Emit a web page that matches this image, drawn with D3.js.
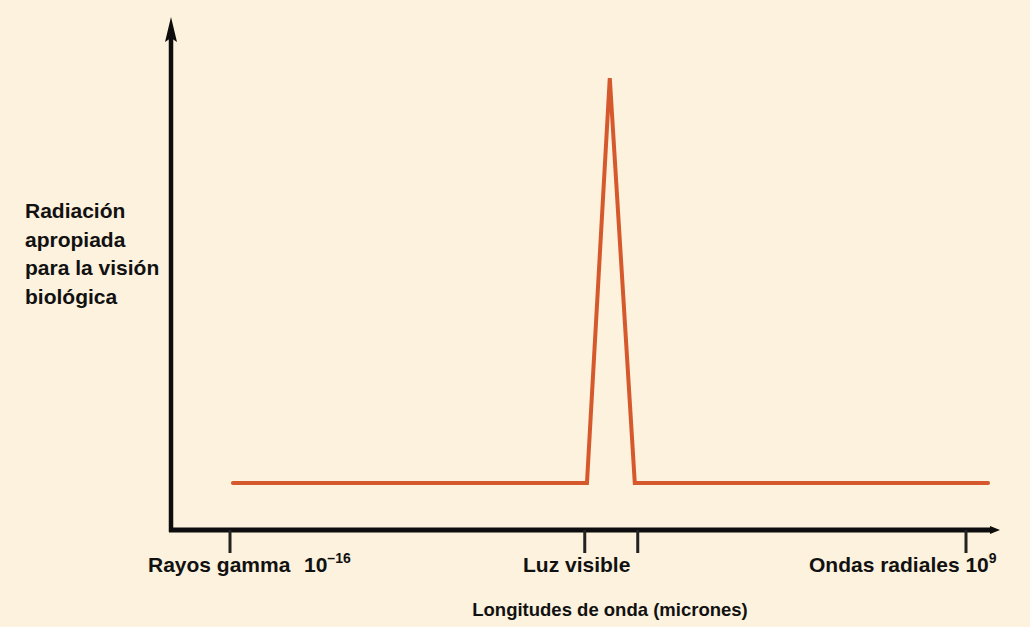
<!DOCTYPE html>
<html><head><meta charset="utf-8">
<script src="https://cdn.jsdelivr.net/npm/d3@7"></script>
<style>
html,body{margin:0;padding:0;background:#fcf2dd;}
svg{display:block;}
text{font-family:"Liberation Sans",Arial,Helvetica,sans-serif;font-weight:bold;fill:#111;}
</style></head>
<body>
<svg id="chart" width="1030" height="627"></svg>
<script>
// Conceptual spectrum positions (0 = gamma rays, 100 = radio waves)
const linePositions = [0.4, 48.5, 51.6, 55.0, 103];
const lineValues    = [9.4, 9.4, 90.4, 9.4, 9.4];
const tickPositions = [0, 48.2, 55.4, 100];
const tickLabels = ["Rayos gamma", "Luz visible", "Ondas radiales"];
const tickExponents = ["\u201316", "", "9"];
const yLabelLines = ["Radiación", "apropiada", "para la visión", "biológica"];
const xTitle = "Longitudes de onda (micrones)";

const svg = d3.select("#chart");
const x = d3.scaleLinear().domain([0, 100]).range([230, 966]);
const y = d3.scaleLinear().domain([0, 100]).range([530, 30]);

// line
svg.append("path")
  .datum(linePositions.map((p, i) => [p, lineValues[i]]))
  .attr("fill", "none")
  .attr("stroke", "#d5592d")
  .attr("stroke-width", 4)
  .attr("stroke-linejoin", "miter")
  .attr("stroke-linecap", "round")
  .attr("d", d3.line().x(d => x(d[0])).y(d => y(d[1])));

// axes
const axisColor = "#0d0d0d";
const x0 = 171, y0 = 530;
svg.append("line").attr("x1", x0).attr("x2", x0).attr("y1", y0 + 2).attr("y2", 36)
  .attr("stroke", axisColor).attr("stroke-width", 4.5);
svg.append("path").attr("d", `M${x0},17 L${x0 + 6},42 L${x0},38 L${x0 - 6},42 Z`).attr("fill", axisColor);
svg.append("line").attr("x1", x0 - 2).attr("x2", 992).attr("y1", y0).attr("y2", y0)
  .attr("stroke", axisColor).attr("stroke-width", 5);
svg.append("path").attr("d", `M1000,${y0} L990,${y0 - 4} L990,${y0 + 4} Z`).attr("fill", axisColor);

// ticks
svg.selectAll("line.tick").data(tickPositions).join("line")
  .attr("class", "tick")
  .attr("x1", d => x(d)).attr("x2", d => x(d))
  .attr("y1", y0).attr("y2", 553)
  .attr("stroke", "#222").attr("stroke-width", 3);

// tick labels
const lab1 = svg.append("text").attr("x", 148).attr("y", 572).style("font-size", "21px");
lab1.append("tspan").text(tickLabels[0]);
lab1.append("tspan").attr("x", 304).text("10");
lab1.append("tspan").attr("dy", -9).style("font-size", "14px").text(tickExponents[0]);

svg.append("text").attr("x", 523).attr("y", 572).style("font-size", "21px").text(tickLabels[1]);

const lab3 = svg.append("text").attr("x", 809).attr("y", 572).style("font-size", "21px");
lab3.append("tspan").text(tickLabels[2] + " 10");
lab3.append("tspan").attr("dy", -9).style("font-size", "14px").text(tickExponents[2]);

// x title
svg.append("text").attr("x", 610).attr("y", 616).attr("text-anchor", "middle")
  .style("font-size", "18.5px").text(xTitle);

// y label
svg.append("g").selectAll("text").data(yLabelLines).join("text")
  .attr("x", 25).attr("y", (d, i) => 218 + i * 28.5)
  .style("font-size", "21px").text(d => d);
</script>
</body></html>
